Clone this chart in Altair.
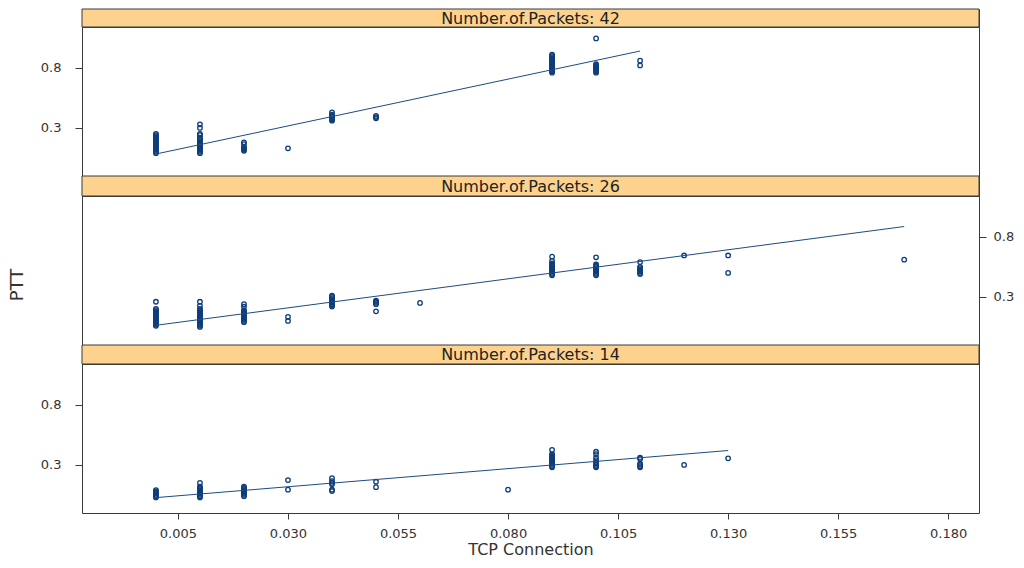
import altair as alt
import pandas as pd

# ---------------- data ----------------
tcp_cols_42 = [0.00, 0.01, 0.02, 0.03, 0.04, 0.05, 0.09, 0.10, 0.11]
ptt_42 = [
    [0.09, 0.10, 0.11, 0.12, 0.13, 0.14, 0.15, 0.16, 0.17, 0.18, 0.19, 0.20, 0.21, 0.22, 0.23, 0.24, 0.25],
    [0.09, 0.10, 0.11, 0.12, 0.13, 0.14, 0.15, 0.16, 0.17, 0.18, 0.19, 0.20, 0.21, 0.22, 0.24, 0.25, 0.30, 0.33],
    [0.11, 0.12, 0.13, 0.14, 0.165, 0.18],
    [0.13],
    [0.36, 0.37, 0.38, 0.39, 0.40, 0.41, 0.43],
    [0.38, 0.39, 0.40],
    [0.76, 0.77, 0.78, 0.79, 0.80, 0.81, 0.82, 0.83, 0.84, 0.85, 0.86, 0.87, 0.88, 0.89, 0.90, 0.91],
    [0.76, 0.77, 0.78, 0.79, 0.80, 0.81, 0.82, 0.83, 1.045],
    [0.82, 0.86],
]
fit_x_42 = [0.00, 0.11]
fit_y_42 = [0.083, 0.94]

tcp_cols_26 = [0.00, 0.01, 0.02, 0.03, 0.04, 0.05, 0.06, 0.09, 0.10, 0.11, 0.12, 0.13, 0.17]
ptt_26 = [
    [0.06, 0.07, 0.08, 0.09, 0.10, 0.11, 0.12, 0.13, 0.14, 0.15, 0.16, 0.17, 0.18, 0.19, 0.20, 0.26],
    [0.05, 0.06, 0.07, 0.08, 0.09, 0.10, 0.11, 0.12, 0.13, 0.14, 0.15, 0.16, 0.17, 0.18, 0.19, 0.20, 0.225, 0.26],
    [0.09, 0.10, 0.11, 0.12, 0.13, 0.14, 0.15, 0.16, 0.17, 0.18, 0.19, 0.22, 0.24],
    [0.10, 0.135],
    [0.22, 0.23, 0.24, 0.25, 0.26, 0.27, 0.28, 0.29, 0.30, 0.31],
    [0.18, 0.24, 0.25, 0.26, 0.27],
    [0.25],
    [0.48, 0.49, 0.50, 0.51, 0.52, 0.53, 0.54, 0.55, 0.56, 0.57, 0.58, 0.60, 0.635],
    [0.48, 0.49, 0.50, 0.51, 0.52, 0.53, 0.54, 0.55, 0.56, 0.57, 0.63],
    [0.49, 0.50, 0.51, 0.52, 0.53, 0.54, 0.55, 0.59],
    [0.645],
    [0.50, 0.645],
    [0.61],
]
fit_x_26 = [0.00, 0.17]
fit_y_26 = [0.064, 0.886]

tcp_cols_14 = [0.00, 0.01, 0.02, 0.03, 0.04, 0.05, 0.08, 0.09, 0.10, 0.11, 0.12, 0.13]
ptt_14 = [
    [0.03, 0.04, 0.05, 0.06, 0.07, 0.08, 0.09],
    [0.03, 0.04, 0.05, 0.06, 0.07, 0.08, 0.09, 0.10, 0.11, 0.12, 0.15],
    [0.04, 0.05, 0.06, 0.07, 0.08, 0.09, 0.10, 0.11, 0.12],
    [0.094, 0.174],
    [0.083, 0.094, 0.14, 0.15, 0.165, 0.19],
    [0.115, 0.16],
    [0.094],
    [0.28, 0.29, 0.30, 0.31, 0.32, 0.33, 0.34, 0.35, 0.36, 0.37, 0.38, 0.39, 0.425],
    [0.28, 0.29, 0.30, 0.31, 0.32, 0.34, 0.36, 0.39, 0.41],
    [0.28, 0.29, 0.30, 0.31, 0.35, 0.36],
    [0.30],
    [0.355],
]
fit_x_14 = [0.00, 0.13]
fit_y_14 = [0.028, 0.42]

x_ticks = [0.005, 0.030, 0.055, 0.080, 0.105, 0.130, 0.155, 0.180]
y_ticks = [0.3, 0.8]
strip_labels = ["Number.of.Packets: 42", "Number.of.Packets: 26", "Number.of.Packets: 14"]

# ---------------- style ----------------
FONT = "DejaVu Sans"
NAVY = "#0d3d7a"
LINE = "#1d4c80"
ORANGE = "#fdd28e"
BORDER = "#3a3a3a"
TEXT = "#333333"
W = 897
PH = 149
STRIP_H = [18, 20, 19]
XDOM = [-0.0168, 0.187]
YDOM = [-0.1, 1.14]


def points_df(cols, ys):
    rows = []
    for xv, col in zip(cols, ys):
        for yv in col:
            rows.append({"x": xv, "y": yv})
    return pd.DataFrame(rows)


def y_axis(orient, pad):
    return alt.Axis(orient=orient, values=y_ticks, format=".1f", tickSize=7,
                    labelPadding=pad, domain=False, grid=False, title=None,
                    labelFont=FONT, labelFontSize=13, labelColor=TEXT,
                    tickColor=BORDER)


def panel(cols, ys, fx, fy, yaxis, xaxis, extra=None):
    xs = alt.Scale(domain=XDOM, nice=False, zero=False)
    ysc = alt.Scale(domain=YDOM, nice=False, zero=False)
    pts = alt.Chart(points_df(cols, ys)).mark_point(
        shape="circle", filled=False, size=20, strokeWidth=1.3, color=NAVY, opacity=1
    ).encode(x=alt.X("x:Q", scale=xs, axis=xaxis), y=alt.Y("y:Q", scale=ysc, axis=yaxis))
    fit = alt.Chart(pd.DataFrame({"x": fx, "y": fy})).mark_line(
        color=LINE, strokeWidth=1
    ).encode(x=alt.X("x:Q", scale=xs, axis=xaxis), y=alt.Y("y:Q", scale=ysc, axis=yaxis))
    layers = [pts, fit]
    if extra is not None:
        layers.append(extra)
    return alt.layer(*layers).properties(width=W, height=PH)


def strip(label, sh):
    base = alt.Chart(pd.DataFrame({"label": [label]}))
    rect = base.mark_rect(fill=ORANGE, stroke=BORDER, strokeWidth=1).encode(
        x=alt.value(0), x2=alt.value(W), y=alt.value(0), y2=alt.value(sh))
    txt = base.mark_text(font=FONT, fontSize=16, color="#222222").encode(
        text="label:N", x=alt.value(W / 2), y=alt.value(sh / 2 + 0.5))
    return alt.layer(rect, txt).properties(width=W, height=sh)


x_axis = alt.Axis(values=x_ticks, format=".3f", tickSize=6, labelPadding=8,
                  domain=False, grid=False, title="TCP Connection",
                  labelFont=FONT, labelFontSize=13, labelColor=TEXT, tickColor=BORDER,
                  titleFont=FONT, titleFontSize=16, titleFontWeight="normal",
                  titleColor=TEXT, titlePadding=1)

ptt_title = alt.Chart(pd.DataFrame({"t": ["PTT"]})).mark_text(
    angle=270, font=FONT, fontSize=18, color=TEXT
).encode(text="t:N", x=alt.value(-64), y=alt.value(89))

p42 = panel(tcp_cols_42, ptt_42, fit_x_42, fit_y_42, y_axis("left", 14), None)
p26 = panel(tcp_cols_26, ptt_26, fit_x_26, fit_y_26, y_axis("right", 7), None, ptt_title)
p14 = panel(tcp_cols_14, ptt_14, fit_x_14, fit_y_14, y_axis("left", 14), x_axis)

chart = alt.vconcat(
    strip(strip_labels[0], STRIP_H[0]), p42,
    strip(strip_labels[1], STRIP_H[1]), p26,
    strip(strip_labels[2], STRIP_H[2]), p14,
    spacing=0, bounds="flush"
).configure_view(
    stroke=BORDER, strokeWidth=1
).properties(
    padding={"left": 0, "top": 0, "right": 0, "bottom": 0},
    background="white"
)

chart.save("out.html", embed_options={"renderer": "svg", "actions": False})
